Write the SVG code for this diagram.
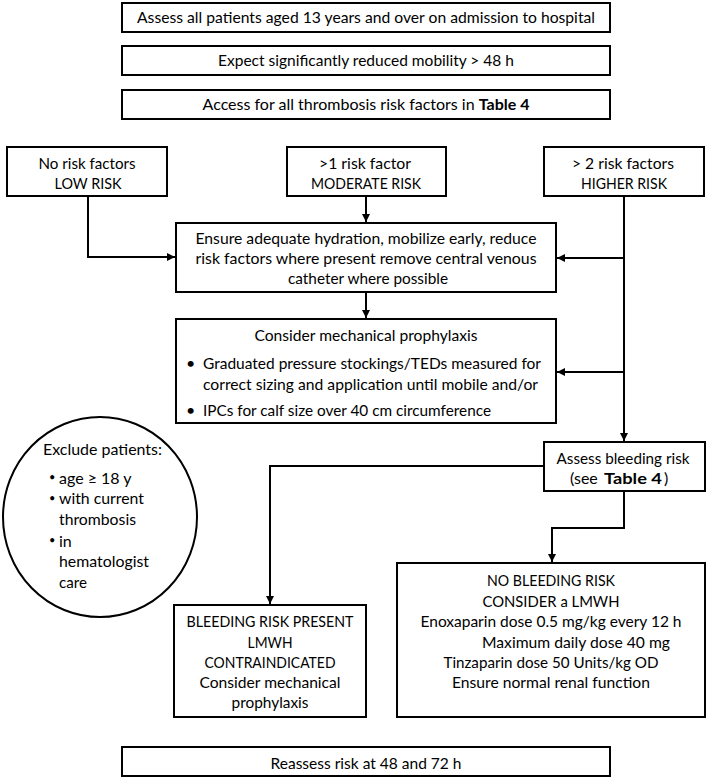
<svg xmlns="http://www.w3.org/2000/svg" width="707" height="779" viewBox="0 0 707 779">
<defs>
<style>
.box{fill:#fff;stroke:#000;stroke-width:2}
.ln{fill:none;stroke:#000;stroke-width:2}
text{font-family:Lato,"Open Sans","Liberation Sans",sans-serif;font-size:16px;fill:#000}
.c{text-anchor:middle}
.b{font-weight:bold}
.sb{font-size:11px}
</style>
<marker id="arr" viewBox="0 0 10 10" refX="10" refY="5" markerWidth="9" markerHeight="8" markerUnits="userSpaceOnUse" orient="auto">
<path d="M0,0 L10,5 L0,10 z" fill="#000"/>
</marker>
</defs>
<rect width="707" height="779" fill="#fff"/>
<g id="connectors">
<path class="ln" d="M88 196 V257 H175" marker-end="url(#arr)"/>
<path class="ln" d="M366 196 V222" marker-end="url(#arr)"/>
<path class="ln" d="M624 196 V441" marker-end="url(#arr)"/>
<path class="ln" d="M624 258 H557" marker-end="url(#arr)"/>
<path class="ln" d="M624 372 H557" marker-end="url(#arr)"/>
<path class="ln" d="M366 292 V318" marker-end="url(#arr)"/>
<path class="ln" d="M544 466 H270 V604" marker-end="url(#arr)"/>
<path class="ln" d="M624 491 V528 H552 V562" marker-end="url(#arr)"/>
</g>
<g id="assess">
<rect class="box" x="122" y="3" width="488" height="29"/>
<text class="c" x="366" y="23" textLength="458" lengthAdjust="spacingAndGlyphs">Assess all patients aged 13 years and over on admission to hospital</text>
</g>
<g id="mobility">
<rect class="box" x="122" y="46" width="488" height="29"/>
<text class="c" x="366" y="66" textLength="296" lengthAdjust="spacingAndGlyphs">Expect significantly reduced mobility &gt; 48 h</text>
</g>
<g id="riskfactors">
<rect class="box" x="122" y="90" width="488" height="29"/>
<text class="c" x="366" y="109.5">Access for all thrombosis risk factors in <tspan class="b">Table 4</tspan></text>
</g>
<g id="low">
<rect class="box" x="7" y="147" width="160" height="49"/>
<text class="c" x="87" y="168.5" textLength="97" lengthAdjust="spacingAndGlyphs">No risk factors</text>
<text class="c" x="88" y="188.5" textLength="67" lengthAdjust="spacingAndGlyphs">LOW RISK</text>
</g>
<g id="moderate">
<rect class="box" x="287" y="147" width="159" height="49"/>
<text class="c" x="365" y="168.5" textLength="92" lengthAdjust="spacingAndGlyphs">&gt;1 risk factor</text>
<text class="c" x="366" y="188.5" textLength="110" lengthAdjust="spacingAndGlyphs">MODERATE RISK</text>
</g>
<g id="higher">
<rect class="box" x="544" y="147" width="160" height="49"/>
<text class="c" x="623" y="168.5" textLength="102" lengthAdjust="spacingAndGlyphs">&gt; 2 risk factors</text>
<text class="c" x="624" y="188.5" textLength="86" lengthAdjust="spacingAndGlyphs">HIGHER RISK</text>
</g>
<g id="ensure">
<rect class="box" x="176" y="223" width="380" height="69"/>
<text class="c" x="366" y="243.5" textLength="341" lengthAdjust="spacingAndGlyphs">Ensure adequate hydration, mobilize early, reduce</text>
<text class="c" x="366" y="263.5" textLength="341" lengthAdjust="spacingAndGlyphs">risk factors where present remove central venous</text>
<text class="c" x="368" y="283.5" textLength="160" lengthAdjust="spacingAndGlyphs">catheter where possible</text>
</g>
<g id="mechanical">
<rect class="box" x="176" y="319" width="380" height="104"/>
<text class="c" x="366" y="340.5" textLength="223" lengthAdjust="spacingAndGlyphs">Consider mechanical prophylaxis</text>
<text x="186" y="368.5">•</text>
<text x="203" y="368.5" textLength="338" lengthAdjust="spacingAndGlyphs">Graduated pressure stockings/TEDs measured for</text>
<text x="203" y="389.5" textLength="335" lengthAdjust="spacingAndGlyphs">correct sizing and application until mobile and/or</text>
<text x="186" y="415.5">•</text>
<text x="203" y="415.5" textLength="288" lengthAdjust="spacingAndGlyphs">IPCs for calf size over 40 cm circumference</text>
</g>
<g id="exclude">
<ellipse class="box" cx="100" cy="517" rx="97" ry="100"/>
<text x="43" y="454.5" textLength="119" lengthAdjust="spacingAndGlyphs">Exclude patients:</text>
<text class="sb" x="49" y="481">•</text>
<text x="59" y="483.5">age ≥ 18 y</text>
<text class="sb" x="49" y="501.5">•</text>
<text x="59" y="504" textLength="85" lengthAdjust="spacingAndGlyphs">with current</text>
<text x="59" y="524.5" textLength="77" lengthAdjust="spacingAndGlyphs">thrombosis</text>
<text class="sb" x="49" y="544">•</text>
<text x="59" y="546.5">in</text>
<text x="59" y="567" textLength="90" lengthAdjust="spacingAndGlyphs">hematologist</text>
<text x="59" y="587.5" textLength="28" lengthAdjust="spacingAndGlyphs">care</text>
</g>
<g id="bleeding">
<rect class="box" x="544" y="442" width="161" height="49"/>
<text class="c" x="623" y="463.5" textLength="133" lengthAdjust="spacingAndGlyphs">Assess bleeding risk</text>
<text x="570" y="483.5">(see</text>
<text class="b" x="604" y="483.5" textLength="58" lengthAdjust="spacingAndGlyphs">Table 4</text>
<text x="664" y="483.5">)</text>
</g>
<g id="present">
<rect class="box" x="174" y="605" width="192" height="112"/>
<text class="c" x="270" y="626.5" textLength="167" lengthAdjust="spacingAndGlyphs">BLEEDING RISK PRESENT</text>
<text class="c" x="270" y="647.5" textLength="45" lengthAdjust="spacingAndGlyphs">LMWH</text>
<text class="c" x="270" y="667.5" textLength="131" lengthAdjust="spacingAndGlyphs">CONTRAINDICATED</text>
<text class="c" x="270" y="687.5" textLength="141" lengthAdjust="spacingAndGlyphs">Consider mechanical</text>
<text class="c" x="270" y="707.5" textLength="77" lengthAdjust="spacingAndGlyphs">prophylaxis</text>
</g>
<g id="lmwh">
<rect class="box" x="397" y="563" width="308" height="154"/>
<text class="c" x="551" y="585.5" textLength="128" lengthAdjust="spacingAndGlyphs">NO BLEEDING RISK</text>
<text class="c" x="551" y="606.5" textLength="137" lengthAdjust="spacingAndGlyphs">CONSIDER a LMWH</text>
<text class="c" x="551" y="626.5" textLength="261" lengthAdjust="spacingAndGlyphs">Enoxaparin dose 0.5 mg/kg every 12 h</text>
<text x="482" y="647.5" textLength="188" lengthAdjust="spacingAndGlyphs">Maximum daily dose 40 mg</text>
<text class="c" x="551" y="667.5" textLength="215" lengthAdjust="spacingAndGlyphs">Tinzaparin dose 50 Units/kg OD</text>
<text class="c" x="551" y="687.5" textLength="198" lengthAdjust="spacingAndGlyphs">Ensure normal renal function</text>
</g>
<g id="reassess">
<rect class="box" x="122" y="747" width="488" height="29"/>
<text class="c" x="366" y="768.5" textLength="191" lengthAdjust="spacingAndGlyphs">Reassess risk at 48 and 72 h</text>
</g>
</svg>
